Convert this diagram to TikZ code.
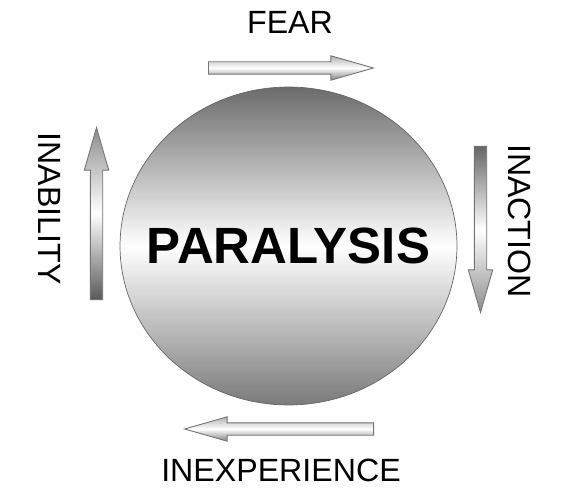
\documentclass[tikz,border=0pt]{standalone}
\usepackage{fontspec}
\setmainfont{Liberation Sans}
\usetikzlibrary{shapes.geometric,shapes.arrows}
\tikzset{
  label text/.style={font=\fontsize{18.3}{20}\selectfont, inner sep=0pt},
  flow/.style={single arrow, draw=black!55, line width=0.5pt, inner sep=0.115cm,
    single arrow head extend=0.12cm, anchor=tail,
    single arrow tip angle=32, single arrow head indent=0pt},
  light mid/.style={middle color=white}
}
\begin{document}
\begin{tikzpicture}[x=0.02cm, y=-0.02cm]
			\useasboundingbox (0,0) rectangle (580,499);
			% central disc
			\node (disc) [ellipse, draw=black!60, line width=0.4pt, minimum width=6.74cm, minimum height=6.36cm,
				top color=black!58, bottom color=black!52, light mid] at (288.5,246) {};
			\node (title) [font=\bfseries\fontsize{29}{31}\selectfont] at (disc.center) {PARALYSIS};
			% arrows round the disc
			\node (fear arrow) [flow, minimum height=3.3cm, top color=black!30, bottom color=black!50, light mid] at (208,68) {};
			\node (inaction arrow) [flow, shape border rotate=270, minimum height=3.32cm, top color=black!60, bottom color=black!45, light mid] at (480.5,146) {};
			\node (inexperience arrow) [flow, shape border rotate=180, minimum height=3.78cm, top color=black!30, bottom color=black!50, light mid] at (374,429) {};
			\node (inability arrow) [flow, shape border rotate=90, minimum height=3.44cm, top color=black!45, bottom color=black!65, light mid] at (96.5,300) {};
			% labels
			\node (fear) [label text] at (290,22) {FEAR};
			\node (inaction) [label text, rotate=-90] at (520,221) {INACTION};
			\node (inexperience) [label text] at (281,470) {INEXPERIENCE};
			\node (inability) [label text, rotate=-90] at (49.5,208.5) {INABILITY};
		\end{tikzpicture}
\end{document}
